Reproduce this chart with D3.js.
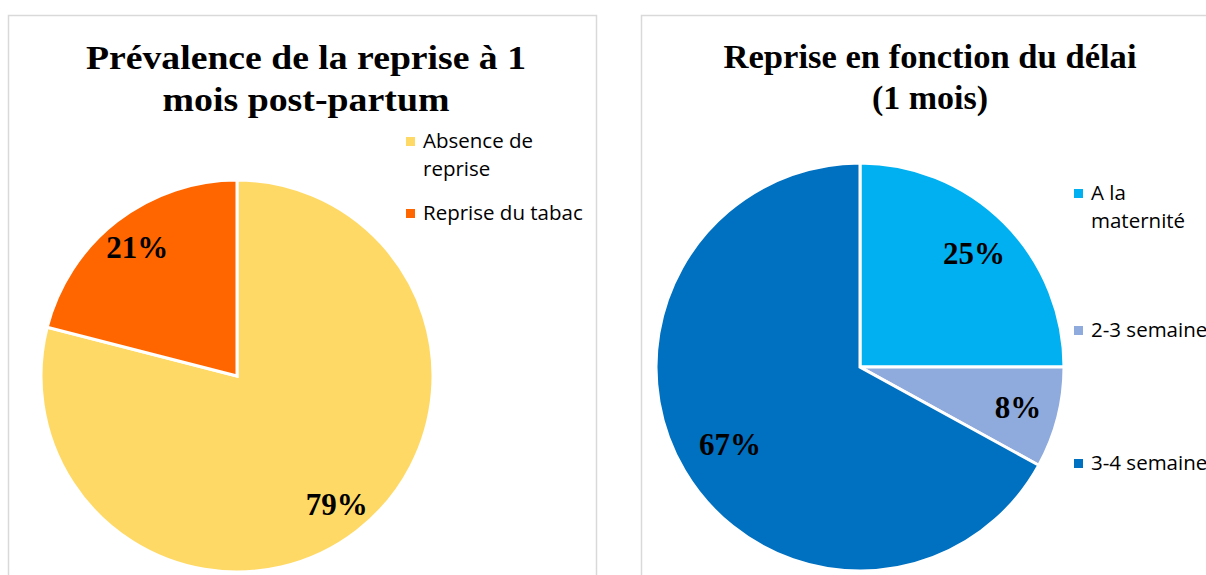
<!DOCTYPE html>
<html>
<head>
<meta charset="utf-8">
<script src="https://cdn.jsdelivr.net/npm/d3@7"></script>
<style>
  body { margin: 0; background: #fff; }
  svg { display: block; }
</style>
</head>
<body>
<svg id="chart"></svg>
<script>
// données du graphique 1
const prevLabels = ["Absence de reprise", "Reprise du tabac"];
const prevValues = [79, 21];
const prevColors = ["#FFD966", "#FF6600"];

// données du graphique 2
const delaiLabels = ["A la maternité", "2-3 semaines", "3-4 semaines"];
const delaiValues = [25, 8, 67];
const delaiColors = ["#00B0F0", "#8FAADC", "#0070C0"];

const width = 1206, height = 575;
const svg = d3.select("#chart").attr("width", width).attr("height", height);

// cadres des deux graphiques
svg.append("rect").attr("x", 8.5).attr("y", 15.5).attr("width", 588).attr("height", 600)
  .attr("fill", "none").attr("stroke", "#d9d9d9").attr("stroke-width", 1.5);
svg.append("rect").attr("x", 641.5).attr("y", 15.5).attr("width", 600).attr("height", 600)
  .attr("fill", "none").attr("stroke", "#d9d9d9").attr("stroke-width", 1.5);

function drawPie(cfg) {
  const g = svg.append("g");

  // titre (largeur forcée comme dans l'original)
  g.selectAll(".title").data(cfg.title).enter().append("text")
    .attr("x", cfg.titleX).attr("y", (d, i) => cfg.titleY[i])
    .attr("text-anchor", "middle")
    .attr("textLength", (d, i) => cfg.titleLen[i])
    .attr("lengthAdjust", "spacingAndGlyphs")
    .style("font-family", "'Liberation Serif', 'Times New Roman', serif")
    .style("font-weight", "bold").style("font-size", "34px")
    .text(d => d);

  const pie = d3.pie().sort(null).value(d => d.value);
  const arc = d3.arc().innerRadius(0).outerRadius(cfg.r);
  const data = cfg.labels.map((l, i) => ({label: l, value: cfg.values[i], color: cfg.colors[i]}));
  const arcs = pie(data);

  const pg = g.append("g").attr("transform", `translate(${cfg.cx}, ${cfg.cy})`);
  pg.selectAll("path").data(arcs).enter().append("path")
    .attr("d", arc)
    .attr("fill", d => d.data.color)
    .attr("stroke", "#fff").attr("stroke-width", 3);

  pg.selectAll("text").data(arcs).enter().append("text")
    .attr("transform", (d, i) => {
      const rr = cfg.r * cfg.labelPos[i];
      const c = d3.arc().innerRadius(rr).outerRadius(rr).centroid(d);
      return `translate(${c[0]}, ${c[1]})`;
    })
    .attr("text-anchor", "middle").attr("dy", "0.35em")
    .style("font-family", "'Liberation Serif', 'Times New Roman', serif")
    .style("font-weight", "bold").style("font-size", "31px")
    .text(d => Math.round(d.data.value) + "%");

  // légende
  const lg = g.append("g");
  cfg.legend.forEach((item, i) => {
    const row = lg.append("g");
    row.append("rect").attr("x", cfg.legX).attr("y", item.y - 11)
      .attr("width", 9).attr("height", 9).attr("fill", cfg.colors[i]);
    item.lines.forEach((ln, j) => {
      row.append("text")
        .attr("x", cfg.legX + 17).attr("y", item.y + j * 28)
        .style("font-family", "'Open Sans', 'Noto Sans', sans-serif")
        .style("font-size", "20.5px").attr("fill", "#000")
        .text(ln);
    });
  });
}

drawPie({
  title: ["Prévalence de la reprise à 1", "mois post-partum"],
  titleX: 306, titleY: [69, 111], titleLen: [440, 287],
  labels: prevLabels, values: prevValues, colors: prevColors,
  cx: 237, cy: 376, r: 196,
  labelPos: [0.83, 0.83],
  legX: 406,
  legend: [
    {y: 148, lines: ["Absence de", "reprise"]},
    {y: 220, lines: ["Reprise du tabac"]}
  ]
});

drawPie({
  title: ["Reprise en fonction du délai", "(1 mois)"],
  titleX: 930, titleY: [68, 109], titleLen: [413, 116],
  labels: delaiLabels, values: delaiValues, colors: delaiColors,
  cx: 860, cy: 367, r: 204,
  labelPos: [0.79, 0.8, 0.74],
  legX: 1074,
  legend: [
    {y: 200, lines: ["A la", "maternité"]},
    {y: 337, lines: ["2-3 semaines"]},
    {y: 470, lines: ["3-4 semaines"]}
  ]
});
</script>
</body>
</html>
